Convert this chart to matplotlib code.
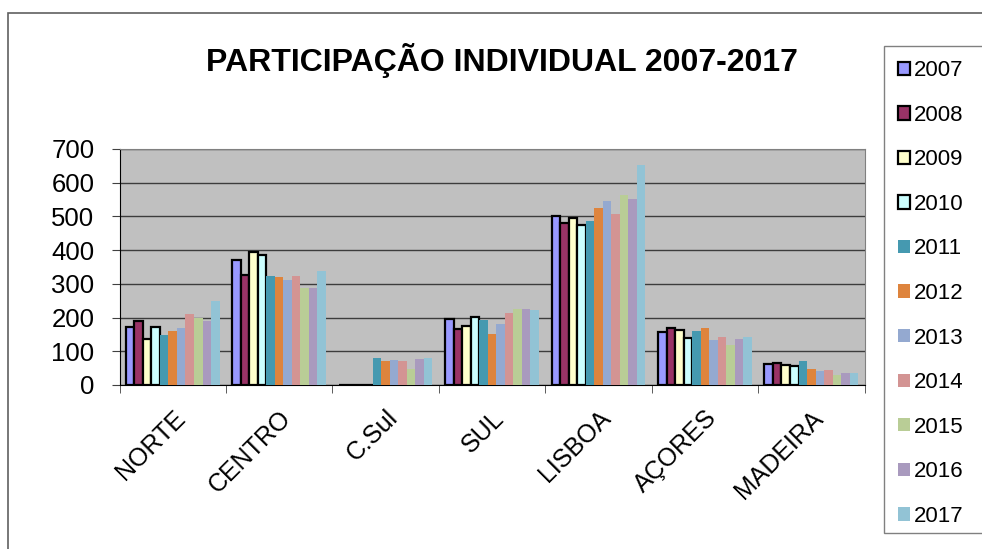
import matplotlib
matplotlib.use("Agg")
import matplotlib.pyplot as plt
import matplotlib.patches as mpatches
import numpy as np

plt.rcParams['font.family'] = ['Liberation Sans', 'DejaVu Sans']

#-------------------------------------------------------------------------------
# Data

regions = ["NORTE", "CENTRO", "C.Sul", "SUL", "LISBOA", "AÇORES", "MADEIRA"]
years = ["2007", "2008", "2009", "2010", "2011", "2012",
         "2013", "2014", "2015", "2016", "2017"]

v2007 = [173, 372, 0, 196, 500, 158, 61]
v2008 = [190, 326, 0, 165, 481, 169, 65]
v2009 = [137, 394, 0, 176, 495, 163, 60]
v2010 = [171, 385, 0, 201, 476, 139, 57]
v2011 = [148, 323, 79, 193, 487, 160, 71]
v2012 = [159, 320, 71, 151, 525, 168, 46]
v2013 = [169, 311, 74, 182, 546, 134, 42]
v2014 = [211, 323, 71, 214, 508, 142, 45]
v2015 = [199, 289, 46, 224, 564, 120, 31]
v2016 = [190, 289, 76, 224, 553, 136, 37]
v2017 = [248, 337, 79, 223, 654, 141, 37]

series = [v2007, v2008, v2009, v2010, v2011, v2012,
          v2013, v2014, v2015, v2016, v2017]

colors = ["#9999FF", "#993366", "#FFFFCC", "#CCFFFF", "#4599B0", "#DE843D",
          "#94A9D0", "#D39493", "#B9CD96", "#A99ABE", "#92C3D5"]
outlined = [True, True, True, True] + [False] * 7

#-------------------------------------------------------------------------------

def main():
  W, H = 982, 549
  fig = plt.figure(figsize=(W/100, H/100), dpi=100)

  # Outer chart frame (runs off the right and bottom edges)
  fig.patches.append(mpatches.Rectangle((8/W, -0.05), 1.1, 1 - 13/H + 0.05,
                     transform=fig.transFigure, fill=False,
                     edgecolor="#606060", lw=1.2))

  ax = fig.add_axes([119.5/W, 1 - 385/H, 745/W, 236/H])
  ax.set_facecolor("#C0C0C0")

  x = np.arange(len(regions))
  n = len(series)
  group_w = 0.88
  w = group_w / n
  for i, vals in enumerate(series):
    offs = -group_w/2 + w*(i + 0.5)
    if outlined[i]:
      ax.bar(x + offs, vals, w, color=colors[i], edgecolor="black",
             linewidth=1.6, zorder=3)
    else:
      ax.bar(x + offs, vals, w, color=colors[i], linewidth=0, zorder=3)

  ax.set_xlim(-0.5, len(regions) - 0.5)
  ax.set_ylim(0, 700)
  ax.set_yticks(np.arange(0, 701, 100))
  ax.yaxis.grid(True, color="#3C3C3C", lw=1.0, zorder=1)
  ax.set_axisbelow(True)

  ax.set_xticks(x)
  ax.set_xticklabels(regions, rotation=45, ha="right", rotation_mode="anchor",
                     fontsize=18)
  ax.set_xticks(np.arange(len(regions) + 1) - 0.5, minor=True)
  ax.tick_params(axis="x", which="major", length=0, pad=15)
  ax.tick_params(axis="x", which="minor", length=6, color="#404040")
  ax.tick_params(axis="y", length=6, labelsize=18.5, color="#404040", pad=12)

  for s in ["top", "right"]:
    ax.spines[s].set_color("#808080")
  ax.spines["left"].set_color("black")
  ax.spines["bottom"].set_color("black")

  fig.text(502/W, 1 - 60/H, "PARTICIPAÇÃO INDIVIDUAL 2007-2017",
           ha="center", va="center", fontsize=23, fontweight="bold")

  # Legend box, drawn by hand so it can run to the right edge
  fig.patches.append(mpatches.Rectangle((884/W, 1 - 533/H), 0.2, (533 - 46)/H,
                     transform=fig.transFigure, facecolor="white",
                     edgecolor="#808080", lw=1.0))
  handles = []
  for i in range(n):
    handles.append(mpatches.Patch(facecolor=colors[i],
                   edgecolor="black" if outlined[i] else colors[i],
                   linewidth=1.6 if outlined[i] else 0))
  fig.legend(handles, years, loc="upper left",
             bbox_to_anchor=(886/W, 1 - 48/H), fontsize=16,
             frameon=False, handlelength=0.55, handleheight=0.55,
             handletextpad=0.15, labelspacing=1.06, borderpad=0.55,
             borderaxespad=0)

  fig.savefig("out.png", dpi=100)
  plt.close(fig)

if __name__ == "__main__":
  main()
